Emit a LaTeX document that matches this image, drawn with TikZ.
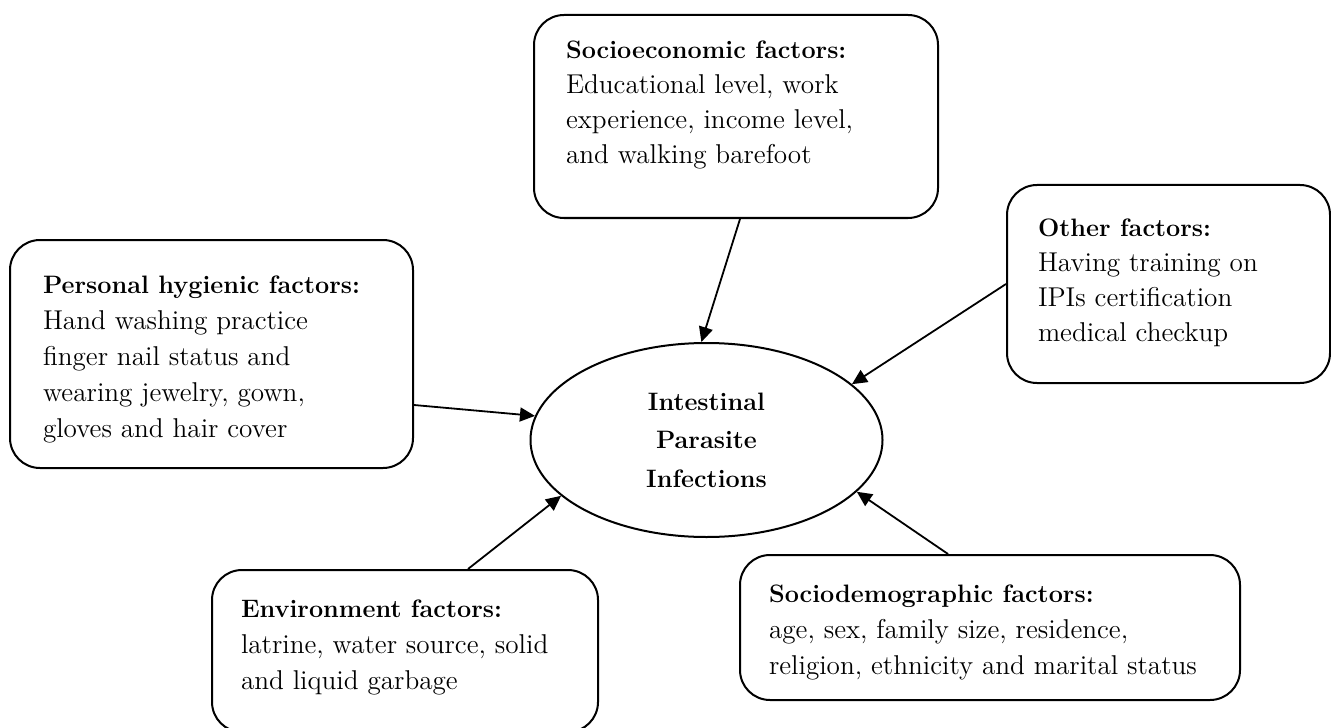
\documentclass[tikz,border=0pt]{standalone}
\usetikzlibrary{arrows.meta,shapes.geometric}

\newcommand{\fhead}[1]{{\fontsize{12.6}{17.5}\selectfont\bfseries #1}}

\tikzset{every picture/.style={line width=1pt},
	factorbox/.style={draw, rounded corners=15pt, inner sep=0pt},
	factortext/.style={anchor=north west, inner sep=0pt, align=left, font=\fontsize{13.6}{17.5}\selectfont},
	widetext/.style={factortext, font=\fontsize{13.6}{18}\selectfont},
	feeds/.style={-{Triangle[length=7.5pt,width=7pt]}, line width=0.9pt}}

\begin{document}
\begin{tikzpicture}[x=0.5pt,y=0.5pt,yscale=-1,xscale=1]
	\useasboundingbox (0,0) rectangle (1331,727);

	%Shape: Rounded Rectangle
	\node [factorbox, minimum width=202pt, minimum height=101.5pt] (soc) at (736,116.5) {};
	%Shape: Rounded Rectangle
	\node [factorbox, minimum width=161.5pt, minimum height=99pt] (oth) at (1168.5,284) {};
	%Shape: Rounded Rectangle
	\node [factorbox, minimum width=201.5pt, minimum height=114pt] (hyg) at (211.5,354) {};
	%Shape: Rounded Rectangle
	\node [factorbox, minimum width=193pt, minimum height=81pt] (env) at (405,651) {};
	%Shape: Rounded Rectangle
	\node [factorbox, minimum width=250pt, minimum height=72.5pt] (dem) at (990,627.5) {};
	%Shape: Ellipse
	\node [draw, ellipse, inner sep=0pt, minimum width=176pt, minimum height=97pt, align=center,
		font=\fontsize{12.6}{19.25}\selectfont\bfseries] (ipi) at (706.5,440) {Intestinal\\Parasite\\Infections};

	% Text Node
	\node [factortext] (soc-txt) at (565,40) {\fhead{Socioeconomic factors:}\\Educational level, work\\experience, income level,\\and walking barefoot};
	% Text Node
	\node [factortext] (oth-txt) at (1037,217.5) {\fhead{Other factors:}\\Having training on\\IPIs certification\\medical checkup};
	% Text Node
	\node [widetext] (hyg-txt) at (42,275) {\fhead{Personal hygienic factors:}\\Hand washing practice\\finger nail status and\\wearing jewelry, gown,\\gloves and hair cover};
	% Text Node
	\node [widetext] (env-txt) at (240,599) {\fhead{Environment factors:}\\latrine, water source, solid\\and liquid garbage};
	% Text Node
	\node [widetext] (dem-txt) at (768,584) {\fhead{Sociodemographic factors:}\\age, sex, family size, residence,\\religion, ethnicity and marital status};

	%Straight Lines
	\draw [feeds] ([xshift=2pt]soc.south) -- (ipi.93);
	\draw [feeds] (oth.west) -- (ipi.21.4);
	\draw [feeds] ([yshift=25.5pt]hyg.east) -- (ipi.172.9);
	\draw [feeds] ([xshift=31.5pt]env.north) -- (ipi.201.3);
	\draw [feeds] ([xshift=-21pt]dem.north) -- (ipi.341.2);

\end{tikzpicture}
\end{document}
